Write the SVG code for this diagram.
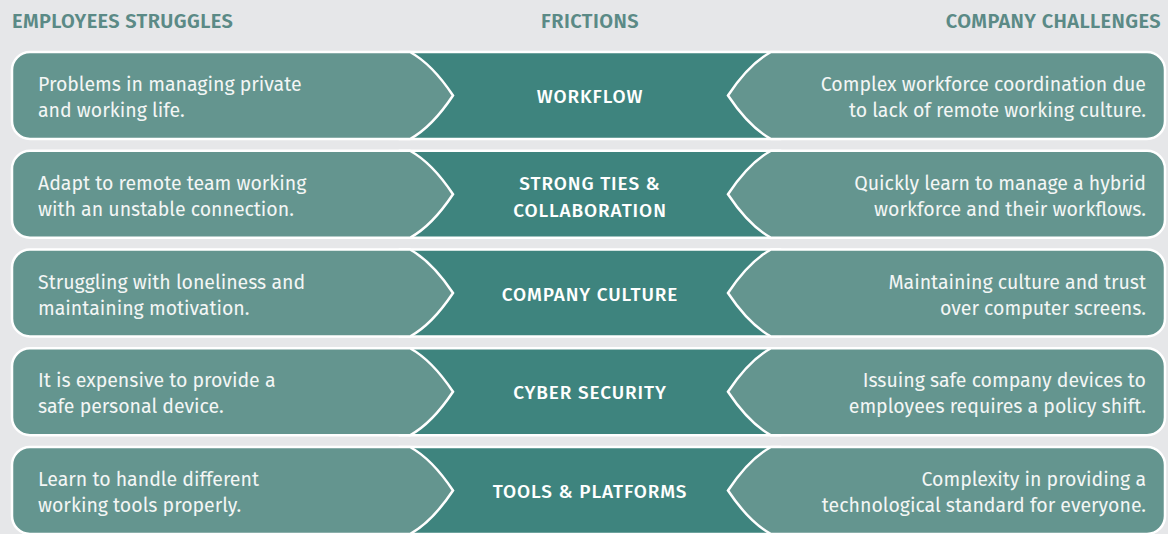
<svg xmlns="http://www.w3.org/2000/svg" width="1168" height="534" viewBox="0 0 1168 534">
<style>
.bg{fill:#e6e7e9}
.hdr{font-family:"Fira Sans",Roboto,"Liberation Sans",sans-serif;font-weight:600;font-size:20px;fill:#5b8a86;letter-spacing:0.4px}
.band{fill:#3e847e;stroke:#ffffff;stroke-width:2.5}
.box{fill:#64958f;stroke:#ffffff;stroke-width:2.5}
.txt{font-family:"Fira Sans",Roboto,"Liberation Sans",sans-serif;font-size:19.5px;fill:#f3f6f5}
.lbl{font-family:"Fira Sans",Roboto,"Liberation Sans",sans-serif;font-weight:500;font-size:19px;fill:#ffffff;letter-spacing:0.9px;text-anchor:middle}
.r{text-anchor:end}
</style>
<rect class="bg" x="0" y="0" width="1168" height="534"/>
<g id="headers">
<text class="hdr" x="12" y="28">EMPLOYEES STRUGGLES</text>
<text class="hdr" x="590" y="28" text-anchor="middle">FRICTIONS</text>
<text class="hdr" x="1161" y="28" text-anchor="end">COMPANY CHALLENGES</text>
</g>
<g id="connectors"></g>

<g id="row1">
<rect class="band" x="400" y="52" width="380" height="87"/>
<path class="box" d="M30,52 H410 Q432,64 453,95.5 Q432,127 410,139 H30 A18,18 0 0 1 12,121 V70 A18,18 0 0 1 30,52 Z"/>
<path class="box" d="M1147,52 H771 Q749,64 728,95.5 Q749,127 771,139 H1147 A18,18 0 0 0 1165,121 V70 A18,18 0 0 0 1147,52 Z"/>
<text class="txt" x="38" y="91">Problems in managing private</text>
<text class="txt" x="38" y="117">and working life.</text>
<text class="lbl" x="590" y="103">WORKFLOW</text>
<text class="txt r" x="1146" y="91">Complex workforce coordination due</text>
<text class="txt r" x="1146" y="117">to lack of remote working culture.</text>
</g>

<g id="row2" transform="translate(0,98.75)">
<rect class="band" x="400" y="52" width="380" height="87"/>
<path class="box" d="M30,52 H410 Q432,64 453,95.5 Q432,127 410,139 H30 A18,18 0 0 1 12,121 V70 A18,18 0 0 1 30,52 Z"/>
<path class="box" d="M1147,52 H771 Q749,64 728,95.5 Q749,127 771,139 H1147 A18,18 0 0 0 1165,121 V70 A18,18 0 0 0 1147,52 Z"/>
<text class="txt" x="38" y="91">Adapt to remote team working</text>
<text class="txt" x="38" y="117">with an unstable connection.</text>
<text class="lbl" x="590" y="91">STRONG TIES &amp;</text>
<text class="lbl" x="590" y="118">COLLABORATION</text>
<text class="txt r" x="1146" y="91">Quickly learn to manage a hybrid</text>
<text class="txt r" x="1146" y="117">workforce and their workflows.</text>
</g>

<g id="row3" transform="translate(0,197.5)">
<rect class="band" x="400" y="52" width="380" height="87"/>
<path class="box" d="M30,52 H410 Q432,64 453,95.5 Q432,127 410,139 H30 A18,18 0 0 1 12,121 V70 A18,18 0 0 1 30,52 Z"/>
<path class="box" d="M1147,52 H771 Q749,64 728,95.5 Q749,127 771,139 H1147 A18,18 0 0 0 1165,121 V70 A18,18 0 0 0 1147,52 Z"/>
<text class="txt" x="38" y="91">Struggling with loneliness and</text>
<text class="txt" x="38" y="117">maintaining motivation.</text>
<text class="lbl" x="590" y="103">COMPANY CULTURE</text>
<text class="txt r" x="1146" y="91">Maintaining culture and trust</text>
<text class="txt r" x="1146" y="117">over computer screens.</text>
</g>

<g id="row4" transform="translate(0,296.25)">
<rect class="band" x="400" y="52" width="380" height="87"/>
<path class="box" d="M30,52 H410 Q432,64 453,95.5 Q432,127 410,139 H30 A18,18 0 0 1 12,121 V70 A18,18 0 0 1 30,52 Z"/>
<path class="box" d="M1147,52 H771 Q749,64 728,95.5 Q749,127 771,139 H1147 A18,18 0 0 0 1165,121 V70 A18,18 0 0 0 1147,52 Z"/>
<text class="txt" x="38" y="91">It is expensive to provide a</text>
<text class="txt" x="38" y="117">safe personal device.</text>
<text class="lbl" x="590" y="103">CYBER SECURITY</text>
<text class="txt r" x="1146" y="91">Issuing safe company devices to</text>
<text class="txt r" x="1146" y="117">employees requires a policy shift.</text>
</g>

<g id="row5" transform="translate(0,395)">
<rect class="band" x="400" y="52" width="380" height="87"/>
<path class="box" d="M30,52 H410 Q432,64 453,95.5 Q432,127 410,139 H30 A18,18 0 0 1 12,121 V70 A18,18 0 0 1 30,52 Z"/>
<path class="box" d="M1147,52 H771 Q749,64 728,95.5 Q749,127 771,139 H1147 A18,18 0 0 0 1165,121 V70 A18,18 0 0 0 1147,52 Z"/>
<text class="txt" x="38" y="91">Learn to handle different</text>
<text class="txt" x="38" y="117">working tools properly.</text>
<text class="lbl" x="590" y="103">TOOLS &amp; PLATFORMS</text>
<text class="txt r" x="1146" y="91">Complexity in providing a</text>
<text class="txt r" x="1146" y="117">technological standard for everyone.</text>
</g>
</svg>
